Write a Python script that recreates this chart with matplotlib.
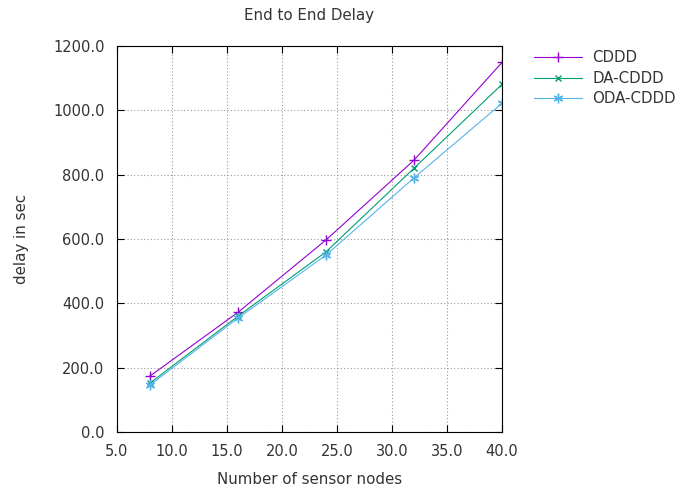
import matplotlib.pyplot as plt
from matplotlib.ticker import FormatStrFormatter

plt.rcParams['font.family'] = ['DejaVu Sans']

# data
nodes = [8, 16, 24, 32, 40]
cddd = [174, 372, 597, 845, 1149]
da_cddd = [152, 360, 560, 820, 1081]
oda_cddd = [146, 354, 550, 790, 1022]

fs = 10.5
txt = '#333333'

fig = plt.figure(figsize=(6.98, 4.92), dpi=100)
ax = fig.add_axes([0.1676, 0.122, 0.5516, 0.7845])

ax.plot(nodes, cddd, color='#9400D3', lw=0.8, marker='+', ms=7, mew=1, label='CDDD')
ax.plot(nodes, da_cddd, color='#009E73', lw=0.8, marker='x', ms=5, mew=1, label='DA-CDDD')
ax.plot(nodes, oda_cddd, color='#56B4E9', lw=0.8, marker=(6, 2, 0), ms=7, mew=1, label='ODA-CDDD')

ax.set_xlim(5, 40)
ax.set_ylim(0, 1200)
ax.set_xticks([5, 10, 15, 20, 25, 30, 35, 40])
ax.set_yticks([0, 200, 400, 600, 800, 1000, 1200])
ax.xaxis.set_major_formatter(FormatStrFormatter('%.1f'))
ax.yaxis.set_major_formatter(FormatStrFormatter('%.1f'))
ax.tick_params(direction='in', top=True, right=True, labelsize=fs, length=5,
               pad=9, labelcolor=txt)
ax.grid(True, linestyle=(0, (1, 2)), color='#999999', lw=0.8)

ax.set_title('End to End Delay', fontsize=10.8, pad=19, color=txt)
ax.set_xlabel('Number of sensor nodes', fontsize=10.8, labelpad=9, color=txt)
ax.set_ylabel('delay in sec', fontsize=10.8, labelpad=17, color=txt)

leg = ax.legend(loc='upper left', bbox_to_anchor=(1.047, 1.024), frameon=False, fontsize=10.8,
                handlelength=3.2, labelspacing=0.37, handletextpad=0.7)
for t in leg.get_texts():
    t.set_color(txt)

fig.savefig('out.png', dpi=100)
